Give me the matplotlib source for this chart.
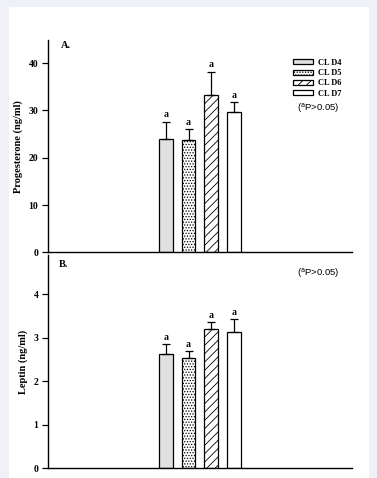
import matplotlib
matplotlib.use('Agg')
import matplotlib.pyplot as plt
from matplotlib.patches import Rectangle
import numpy as np

# data
groups = ['CL D4', 'CL D5', 'CL D6', 'CL D7']
prog_mean = [24.0, 23.8, 33.2, 29.6]
prog_err = [3.5, 2.2, 4.9, 2.1]
lep_mean = [2.62, 2.53, 3.20, 3.13]
lep_err = [0.24, 0.16, 0.16, 0.29]
sig_letters = ['a', 'a', 'a', 'a']

fills = ['#e0e0e0', 'white', 'white', 'white']
hatches = ['', '......', '////', '']

plt.rcParams['font.family'] = ['Liberation Serif', 'DejaVu Serif']
plt.rcParams['hatch.linewidth'] = 0.6

W, H = 377, 478
fig = plt.figure(figsize=(W / 100, H / 100), dpi=100, facecolor='#f0f1f8')
fig.patches.append(Rectangle((9 / W, 0), 360 / W, 471 / H, transform=fig.transFigure,
                             facecolor='white', edgecolor='none', zorder=-10))

def fy(px):
    return 1 - px / H

axA = fig.add_axes([48 / W, fy(252.3), 304 / W, fy(40) - fy(252.3)])
axB = fig.add_axes([48 / W, fy(468.3), 304 / W, fy(255) - fy(468.3)])

xpos = np.array([5.22, 6.22, 7.22, 8.22])

def draw(ax, means, errs, ylim, ticks, ylabel, off):
    ax.set_facecolor('none')
    for i in range(len(groups)):
        ax.bar(xpos[i], means[i], width=0.6, color=fills[i], edgecolor='black',
               hatch=hatches[i], linewidth=0.9, label=groups[i], zorder=2)
        ax.errorbar(xpos[i], means[i], yerr=[[0], [errs[i]]], fmt='none',
                    ecolor='black', elinewidth=0.9, capsize=2.9, capthick=0.9, zorder=3)
        ax.text(xpos[i], means[i] + errs[i] + off, sig_letters[i], ha='center', va='bottom',
                fontsize=7, fontweight='bold')
    ax.set_xlim(0, 13.45)
    ax.set_ylim(*ylim)
    ax.set_yticks(ticks)
    ax.set_xticks([])
    for s in ['top', 'right']:
        ax.spines[s].set_visible(False)
    for s in ['left', 'bottom']:
        ax.spines[s].set_linewidth(1.0)
    ax.tick_params(axis='y', direction='out', length=4, width=0.9, pad=3, labelsize=7)
    for lab in ax.get_yticklabels():
        lab.set_fontweight('bold')
    ax.set_ylabel(ylabel, fontsize=7.5, fontweight='bold', labelpad=4)

draw(axA, prog_mean, prog_err, (0, 44.9), [0, 10, 20, 30, 40], 'Progesterone (ng/ml)', 0.6)
draw(axB, lep_mean, lep_err, (0, 4.9), [0, 1, 2, 3, 4], 'Leptin (ng/ml)', 0.05)

axA.text(0.043, 0.974, 'A.', transform=axA.transAxes, fontsize=7.5, fontweight='bold', va='center')
axB.text(0.037, 0.955, 'B.', transform=axB.transAxes, fontsize=7.5, fontweight='bold', va='center')

leg = axA.legend(loc='upper left', bbox_to_anchor=(0.807, 0.912), frameon=False,
                 prop={'size': 6, 'weight': 'bold'}, handlelength=2.4, handleheight=0.55,
                 labelspacing=0.28, handletextpad=0.6, borderaxespad=0, borderpad=0)

note = '($^{\\mathrm{a}}$P>0.05)'
axA.text(0.888, 0.678, note, transform=axA.transAxes, ha='center', va='center',
         fontsize=6.8, family='Liberation Sans')
axB.text(0.889, 0.917, note, transform=axB.transAxes, ha='center', va='center',
         fontsize=6.8, family='Liberation Sans')

fig.savefig('out.png', dpi=100, facecolor=fig.get_facecolor())
